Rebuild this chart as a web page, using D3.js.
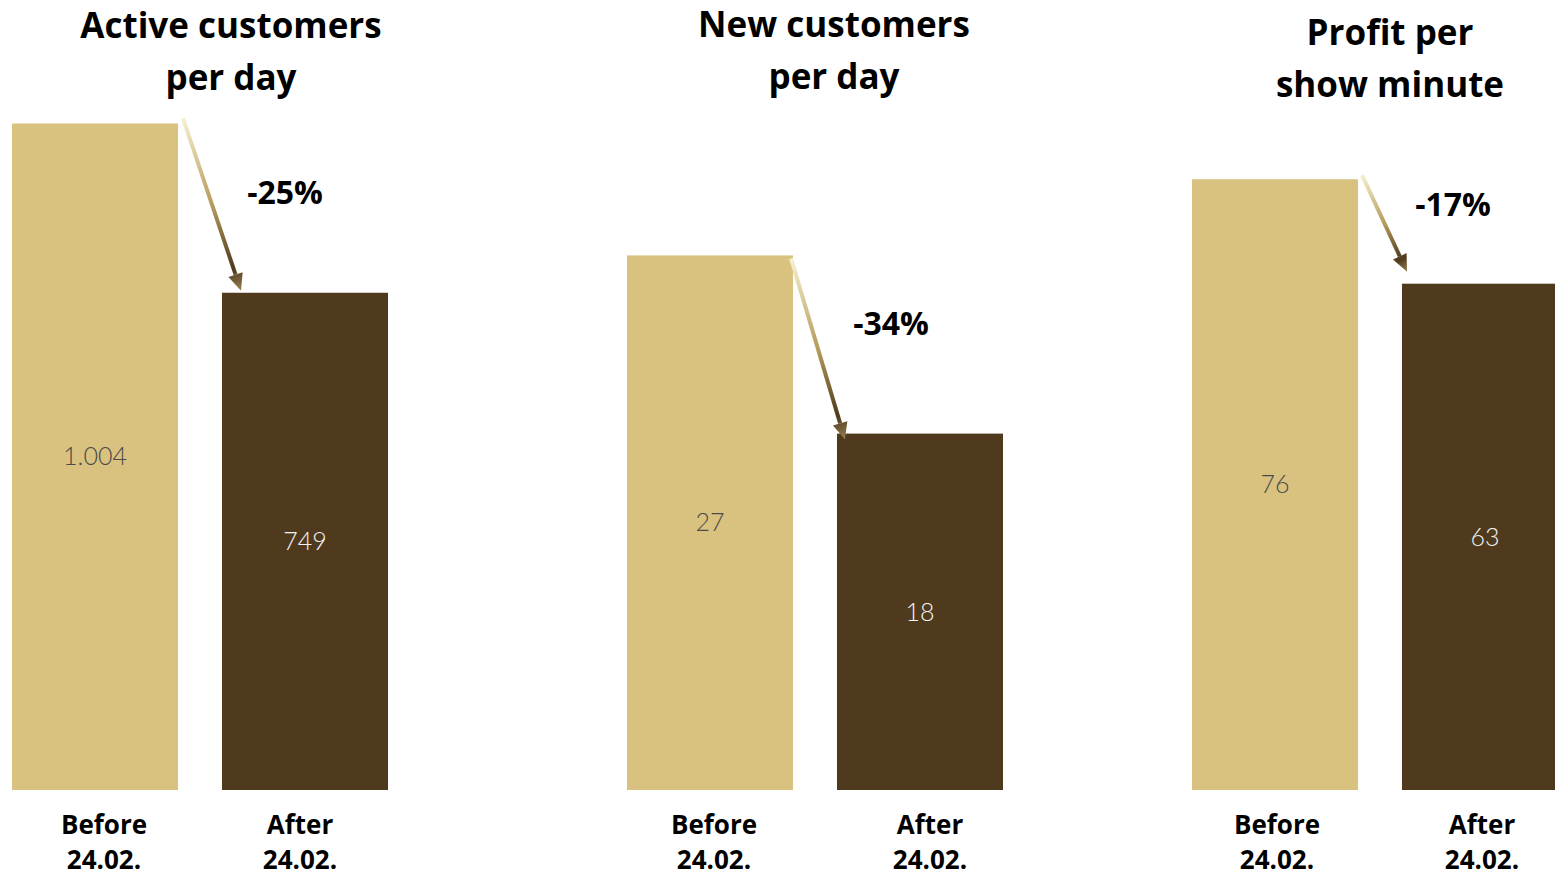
<!DOCTYPE html>
<html>
<head>
<meta charset="utf-8">
<script src="https://cdn.jsdelivr.net/npm/d3@7"></script>
<style>
  body { margin: 0; background: #fff; }
  svg { display: block; font-family: "Open Sans", Lato, sans-serif; }
</style>
</head>
<body>
<svg width="1555" height="879"></svg>
<script>
// Data
var panelTitles = [["Active customers", "per day"], ["New customers", "per day"], ["Profit per", "show minute"]];
var categories = ["Before 24.02.", "After 24.02."];
var beforeValues = [1004, 27, 76];
var afterValues = [749, 18, 63];
var valueLabels = [["1.004", "749"], ["27", "18"], ["76", "63"]];
var changeLabels = ["-25%", "-34%", "-17%"];

// layout per panel
var panelRanges = [[12, 388], [627, 1003], [1192, 1568]];
var domainMax = [1190, 39.9, 98.3];
var titleX = [231, 834, 1390];
var titleY = [26, 25, 33];
var catOffset = [[9, -5], [4, 10], [2, -3]];
var changePos = [[285, 193], [891, 324], [1453, 205]];
// arrow start/end offsets relative to bar corners [dx1, dy1, dx2, dy2]
var arrowOff = [[5, -5, 19, -2], [-2, 3, 8, 6], [4, -4, 5, -12]];

var colors = ["#D9C27F", "#4F3A1D"];
var labelColors = ["#4a4a4a", "#f2f2f2"];

var svg = d3.select("svg"),
    width = +svg.attr("width"),
    height = +svg.attr("height");
var baseY = 790;

var defs = svg.append("defs");

panelTitles.forEach(function (title, i) {
    var x = d3.scaleBand()
        .domain(categories)
        .range(panelRanges[i])
        .paddingInner(0.2095)
        .paddingOuter(0);
    var y = d3.scaleLinear()
        .domain([0, domainMax[i]])
        .range([baseY, 0]);

    var vals = [beforeValues[i], afterValues[i]];
    var g = svg.append("g");

    g.selectAll("rect")
        .data(categories)
        .enter()
        .append("rect")
        .attr("x", function (d) { return x(d); })
        .attr("y", function (d, j) { return y(vals[j]); })
        .attr("width", x.bandwidth())
        .attr("height", function (d, j) { return baseY - y(vals[j]); })
        .attr("fill", function (d, j) { return colors[j]; });

    // values in the middle of the bars
    g.selectAll(".val")
        .data(categories)
        .enter()
        .append("text")
        .attr("class", "val")
        .attr("x", function (d) { return x(d) + x.bandwidth() / 2; })
        .attr("y", function (d, j) { return (y(vals[j]) + baseY) / 2; })
        .attr("dy", "0.35em")
        .attr("text-anchor", "middle")
        .style("font-family", "Lato, sans-serif")
        .style("font-size", "25px")
        .style("font-weight", 300)
        .attr("fill", function (d, j) { return labelColors[j]; })
        .text(function (d, j) { return valueLabels[i][j]; });

    // category labels
    categories.forEach(function (c, j) {
        var parts = c.split(" ");
        var t = g.append("text")
            .attr("text-anchor", "middle")
            .style("font-size", "26px")
            .style("font-weight", 700)
            .attr("fill", "#000");
        parts.forEach(function (p, k) {
            t.append("tspan")
                .attr("x", x(c) + x.bandwidth() / 2 + catOffset[i][j])
                .attr("y", 834 + k * 35)
                .text(p);
        });
    });

    // title
    var tt = g.append("text")
        .attr("text-anchor", "middle")
        .style("font-size", "35px")
        .style("font-weight", 700)
        .attr("fill", "#000");
    title.forEach(function (line, k) {
        tt.append("tspan")
            .attr("x", titleX[i])
            .attr("y", titleY[i] + 12 + k * 52)
            .text(line);
    });

    // arrow
    var o = arrowOff[i];
    var x1 = x(categories[0]) + x.bandwidth() + o[0],
        y1 = y(vals[0]) + o[1],
        x2 = x(categories[1]) + o[2],
        y2 = y(vals[1]) + o[3];
    var gid = "grad" + i;
    var grad = defs.append("linearGradient")
        .attr("id", gid)
        .attr("gradientUnits", "userSpaceOnUse")
        .attr("x1", x1).attr("y1", y1)
        .attr("x2", x2).attr("y2", y2);
    grad.append("stop").attr("offset", "0%").attr("stop-color", "#F6EFCF");
    grad.append("stop").attr("offset", "50%").attr("stop-color", "#B69C5C");
    grad.append("stop").attr("offset", "87%").attr("stop-color", "#4E3A1C");
    grad.append("stop").attr("offset", "100%").attr("stop-color", "#9A8050");

    var ang = Math.atan2(y2 - y1, x2 - x1);
    var headLen = 17, headW = 7.5;
    var bx = x2 - headLen * Math.cos(ang), by = y2 - headLen * Math.sin(ang);
    g.append("line")
        .attr("x1", x1).attr("y1", y1)
        .attr("x2", bx).attr("y2", by)
        .attr("stroke", "url(#" + gid + ")")
        .attr("stroke-width", 4);
    var px = -Math.sin(ang), py = Math.cos(ang);
    g.append("path")
        .attr("d", d3.line()([[x2, y2], [bx + px * headW, by + py * headW], [bx - px * headW, by - py * headW]]) + "Z")
        .attr("fill", "url(#" + gid + ")");

    // change label
    g.append("text")
        .attr("x", changePos[i][0])
        .attr("y", changePos[i][1])
        .attr("dy", "0.35em")
        .attr("text-anchor", "middle")
        .style("font-size", "32px")
        .style("font-weight", 700)
        .attr("fill", "#000")
        .text(changeLabels[i]);
});
</script>
</body>
</html>
